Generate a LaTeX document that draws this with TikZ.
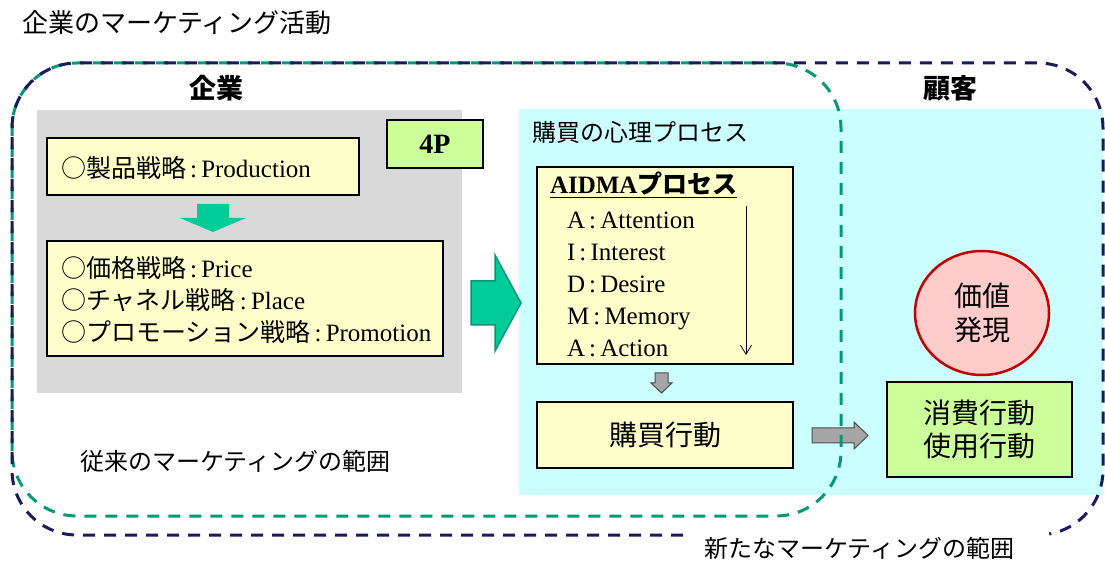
\documentclass[tikz,border=0pt]{standalone}
\usepackage{fontspec}
\setmainfont{Noto Sans CJK JP}
\newfontfamily\lat{Liberation Serif}
\usetikzlibrary{arrows.meta,shapes.geometric}
\definecolor{navyline}{HTML}{1A1A5E}
\definecolor{tealline}{HTML}{009977}
\definecolor{graybg}{HTML}{D9D9D9}
\definecolor{cyanbg}{HTML}{CCFFFF}
\definecolor{yelbox}{HTML}{FFFFCC}
\definecolor{greenbox}{HTML}{CCFF99}
\definecolor{arrowgreen}{HTML}{00CC99}
\definecolor{pinkfill}{HTML}{FFCCCC}
\definecolor{redline}{HTML}{C00000}
\definecolor{arrowgray}{HTML}{A6A6A6}
\definecolor{arrowgrayline}{HTML}{4D4D4D}
\newcommand\FS[2]{\fontsize{#1}{#2}\selectfont}
\begin{document}
\begin{tikzpicture}[x=1pt,y=1pt,
  area/.style={inner sep=0pt, outer sep=0pt, draw=none},
  ybox/.style={draw=black, line width=1.6pt, fill=yelbox, inner sep=0pt},
  gbox/.style={draw=black, line width=1.6pt, fill=greenbox, inner sep=0pt},
  txt/.style={inner sep=0pt, outer sep=0pt, align=left},
  navydash/.style={draw=navyline, line width=3pt, dash pattern=on 12pt off 9pt},
  tealdash/.style={draw=tealline, line width=3pt, dash pattern=on 12pt off 9pt},
  garrow/.style={fill=arrowgray, draw=arrowgrayline, line width=1pt},
]
\useasboundingbox (0,0) rectangle (1105,565);
\fill[white] (0,0) rectangle (1105,565);

% background areas
\node[area, fill=graybg, minimum width=425pt, minimum height=283pt] (kigyoarea) at (249.5,313.5) {};
\node[area, fill=cyanbg, minimum width=584pt, minimum height=386pt] (kokyakuarea) at (811,263) {};

% title and headings
\node[txt, anchor=west, font=\FS{26}{30}] (title) at (22,542) {企業のマーケティング活動};
\node[txt, font=\FS{27}{30}\bfseries] (kigyo) at (216,477) {企業};
\node[txt, font=\FS{27}{30}\bfseries] (kokyaku) at (950,477) {顧客};

% 4P side
\node[ybox, minimum width=312pt, minimum height=57pt] (prod) at (203,398.5) {};
\node[txt, anchor=west, font=\FS{25}{32}] (prodT) at (61,397) {○製品戦略{\lat\,:\,Production}};
\node[gbox, line width=1.2pt, minimum width=96pt, minimum height=48pt, font=\FS{28}{30}\lat\bfseries] (fourP) at (435,421) {4P};
\node[ybox, minimum width=396pt, minimum height=115pt] (mix) at (245,266.5) {};
\node[txt, anchor=west, font=\FS{25}{32}] (mixT) at (61,265) {○価格戦略{\lat\,:\,Price}\\○チャネル戦略{\lat\,:\,Place}\\○プロモーション戦略{\lat\,:\,Promotion}};
\fill[arrowgreen] (197,361) -- (229,361) -- (229,347) -- (246,347) -- (213,333) -- (180,347) -- (197,347) -- cycle;

% big arrow
\filldraw[fill=arrowgreen, draw=tealline, line width=1.5pt, line join=miter] (471,284) -- (495,284) -- (495,310) -- (521,262) -- (495,214) -- (495,240) -- (471,240) -- cycle;

% consumer side
\node[txt, anchor=west, font=\FS{24}{28}] (shinri) at (532,433) {購買の心理プロセス};
\node[ybox, minimum width=256pt, minimum height=197pt] (aidma) at (665,299.5) {};
\node[txt, anchor=west, font=\FS{25}{28}] (aidmaH) at (550,380) {\underline{{\lat\bfseries AIDMA}{\bfseries プロセス}}};
\node[txt, anchor=west, font=\FS{25}{32}\lat] (aidmaL) at (567,281) {A\,:\,Attention\\I\,:\,Interest\\D\,:\,Desire\\M\,:\,Memory\\A\,:\,Action};
\coordinate (flowtop) at (746,359);
\coordinate (flowbot) at (746,210);
\draw[line width=0.8pt, -{Straight Barb[length=9pt,width=11pt]}] (flowtop) -- (flowbot);
\draw[garrow] (655,192) -- (668,192) -- (668,182) -- (672,182) -- (661.5,172) -- (651,182) -- (655,182) -- cycle;
\node[ybox, minimum width=256pt, minimum height=66pt, font=\FS{28}{32}] (kobai) at (665,130) {購買行動};
\draw[garrow] (812,137) -- (854,137) -- (854,143) -- (868,129.5) -- (854,116) -- (854,122) -- (812,122) -- cycle;
\node[ellipse, draw=redline, line width=2.5pt, fill=pinkfill, minimum width=134pt, minimum height=124pt, inner sep=0pt, align=center, font=\FS{28}{34}] (kachi) at (982,252) {価値\\発現};
\node[gbox, minimum width=185pt, minimum height=95pt, align=center, font=\FS{28}{33}] (shohi) at (979.5,135.5) {消費行動\\使用行動};

% scope labels
\node[txt, anchor=west, font=\FS{24}{28}] (juurai) at (80,104) {従来のマーケティングの範囲};
\node[txt, anchor=west, font=\FS{24}{28}] (aratana) at (704,17) {新たなマーケティングの範囲};

% dashed scopes
\draw[tealdash, rounded corners=65pt] (12,49) rectangle (841,502);
\draw[navydash] (683,30) -- (77,30) arc[start angle=270, end angle=180, radius=65] -- (12,437) arc[start angle=180, end angle=90, radius=65] -- (1038,502) arc[start angle=90, end angle=0, radius=65] -- (1103,95) arc[start angle=0, end angle=-80, radius=65];
\end{tikzpicture}
\end{document}
